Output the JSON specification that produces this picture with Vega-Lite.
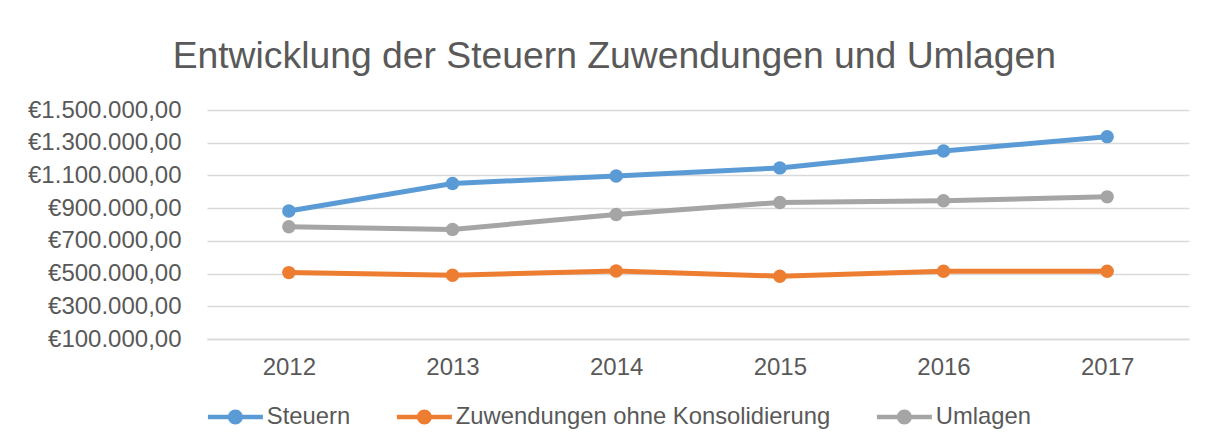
{
  "$schema": "https://vega.github.io/schema/vega-lite/v6.json",
  "width": 982,
  "height": 229,
  "padding": {"left": 27, "top": 37, "right": 17, "bottom": 10},
  "background": "white",
  "title": {
    "text": "Entwicklung der Steuern Zuwendungen und Umlagen",
    "font": "Liberation Sans",
    "fontSize": 37.3,
    "fontWeight": "normal",
    "color": "#595959",
    "anchor": "middle",
    "frame": "bounds",
    "dx": 6,
    "offset": 22
  },
  "data": {
    "values": [
      {"year": "2012", "series": "Steuern", "value": 883000},
      {"year": "2013", "series": "Steuern", "value": 1051000},
      {"year": "2014", "series": "Steuern", "value": 1096000},
      {"year": "2015", "series": "Steuern", "value": 1146000},
      {"year": "2016", "series": "Steuern", "value": 1249000},
      {"year": "2017", "series": "Steuern", "value": 1337000},
      {"year": "2012", "series": "Zuwendungen ohne Konsolidierung", "value": 506000},
      {"year": "2013", "series": "Zuwendungen ohne Konsolidierung", "value": 490000},
      {"year": "2014", "series": "Zuwendungen ohne Konsolidierung", "value": 516000},
      {"year": "2015", "series": "Zuwendungen ohne Konsolidierung", "value": 484000},
      {"year": "2016", "series": "Zuwendungen ohne Konsolidierung", "value": 514000},
      {"year": "2017", "series": "Zuwendungen ohne Konsolidierung", "value": 514000},
      {"year": "2012", "series": "Umlagen", "value": 786000},
      {"year": "2013", "series": "Umlagen", "value": 770000},
      {"year": "2014", "series": "Umlagen", "value": 861000},
      {"year": "2015", "series": "Umlagen", "value": 935000},
      {"year": "2016", "series": "Umlagen", "value": 945000},
      {"year": "2017", "series": "Umlagen", "value": 969000}
    ]
  },
  "encoding": {
    "x": {
      "field": "year",
      "type": "ordinal",
      "scale": {"type": "point", "padding": 0.5},
      "axis": {
        "title": null,
        "labelAngle": 0,
        "labelFont": "Liberation Sans",
        "labelFontSize": 24,
        "labelColor": "#595959",
        "labelPadding": 16,
        "ticks": false,
        "domain": true,
        "domainColor": "#d9d9d9",
        "domainWidth": 1.3,
        "grid": false
      }
    },
    "y": {
      "field": "value",
      "type": "quantitative",
      "scale": {"domain": [100000, 1500000], "nice": false, "zero": false},
      "axis": {
        "title": null,
        "values": [100000, 300000, 500000, 700000, 900000, 1100000, 1300000, 1500000],
        "labelExpr": "'€' + replace(replace(replace(format(datum.value, ',.2f'), regexp(',', 'g'), '#'), regexp('[.]', 'g'), ','), regexp('#', 'g'), '.')",
        "labelFont": "Liberation Sans",
        "labelFontSize": 24,
        "labelColor": "#595959",
        "labelPadding": 26,
        "ticks": false,
        "domain": false,
        "grid": true,
        "gridColor": "#d9d9d9",
        "gridWidth": 1.3
      }
    },
    "color": {
      "field": "series",
      "type": "nominal",
      "scale": {
        "domain": ["Steuern", "Zuwendungen ohne Konsolidierung", "Umlagen"],
        "range": ["#5B9BD5", "#ED7D31", "#A5A5A5"]
      },
      "legend": {
        "title": null,
        "orient": "bottom",
        "direction": "horizontal",
        "labelFont": "Liberation Sans",
        "labelFontSize": 23.8,
        "labelColor": "#595959",
        "labelLimit": 1000,
        "labelOffset": 36,
        "columnPadding": 45,
        "offset": 26,
        "symbolType": "M-1,-0.2L4,-0.2L4,0.2L-1,0.2Z M0.82,0A0.68,0.68 0 1,1 2.18,0A0.68,0.68 0 1,1 0.82,0Z",
        "symbolSize": 484,
        "symbolStrokeWidth": 0,
        "encode": {
          "symbols": {
            "update": {
              "fill": {"scale": "color", "field": "value"},
              "fillOpacity": {"value": 1},
              "strokeWidth": {"value": 0}
            }
          }
        }
      }
    }
  },
  "layer": [
    {"mark": {"type": "line", "strokeWidth": 5}},
    {"mark": {"type": "point", "filled": true, "opacity": 1, "size": 180, "shape": "circle"}}
  ],
  "config": {
    "view": {"stroke": null}
  }
}
